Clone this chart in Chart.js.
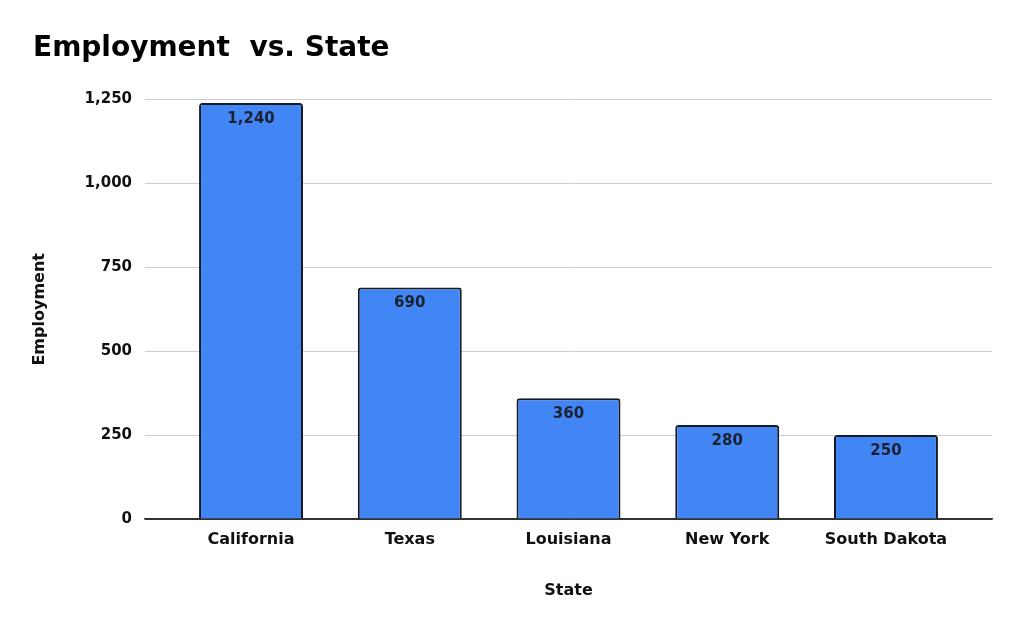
<!DOCTYPE html>
<html>
<head>
<meta charset="utf-8">
<script src="https://cdn.jsdelivr.net/npm/chart.js@4"></script>
<style>
  html, body { margin: 0; padding: 0; background: #fff; }
  #wrap { width: 1024px; height: 633px; }
</style>
</head>
<body>
<div id="wrap"><canvas id="employmentChart" width="1024" height="633"></canvas></div>
<script>
// chart data
const states = ['California', 'Texas', 'Louisiana', 'New York', 'South Dakota'];
const employment = [1240, 690, 360, 280, 250];
const yTicks = [0, 250, 500, 750, 1000, 1250];

const FONT = "'DejaVu Sans', 'Liberation Sans', Arial, sans-serif";

// draws the value inside the top of each bar
const barValueLabels = {
    id: 'barValueLabels',
    afterDatasetsDraw(chart) {
        const ctx = chart.ctx;
        const meta = chart.getDatasetMeta(0);
        ctx.save();
        ctx.font = 'bold 15px ' + FONT;
        ctx.fillStyle = '#1c2130';
        ctx.textAlign = 'center';
        ctx.textBaseline = 'middle';
        meta.data.forEach((bar, i) => {
            ctx.fillText(employment[i].toLocaleString('en-US'), bar.x, bar.y + 16);
        });
        ctx.restore();
    }
};

const ctx = document.getElementById('employmentChart').getContext('2d');
const employmentChart = new Chart(ctx, {
    type: 'bar',
    data: {
        datasets: [{
            label: 'Employment',
            data: employment.map((v, i) => ({ x: i, y: v })),
            backgroundColor: '#4285f4',
            borderColor: '#161a22',
            borderWidth: 2,
            borderRadius: 3,
            borderSkipped: 'bottom',
            categoryPercentage: 1,
            barPercentage: 0.655
        }]
    },
    options: {
        responsive: false,
        animation: false,
        layout: {
            padding: { left: 33, right: 32, top: 0, bottom: 0 }
        },
        plugins: {
            legend: { display: false },
            tooltip: { enabled: false },
            title: {
                display: true,
                text: 'Employment  vs. State',
                align: 'start',
                color: '#000',
                font: { family: FONT, size: 28, weight: 'bold' },
                padding: { top: 32, bottom: 34 }
            }
        },
        scales: {
            x: {
                type: 'linear',
                offset: false,
                min: -0.668,
                max: 4.668,
                afterBuildTicks: (scale) => {
                    scale.ticks = states.map((_, i) => ({ value: i }));
                },
                afterFit: (scale) => { scale.height = 114; },
                grid: { display: false, drawTicks: false },
                border: { color: '#333', width: 1.5 },
                ticks: {
                    autoSkip: false,
                    maxRotation: 0,
                    padding: 11,
                    color: '#111',
                    font: { family: FONT, size: 16, weight: 'bold' },
                    callback: (value) => states[value]
                },
                title: {
                    display: true,
                    text: 'State',
                    color: '#111',
                    font: { family: FONT, size: 16, weight: 'bold' },
                    padding: { top: 0, bottom: 33 }
                }
            },
            y: {
                min: 0,
                max: 1250,
                afterBuildTicks: (scale) => {
                    scale.ticks = yTicks.map(v => ({ value: v }));
                },
                afterFit: (scale) => { scale.width = 112; },
                grid: {
                    drawTicks: false,
                    color: (c) => c.tick && c.tick.value === 0 ? '#333' : '#cccccc',
                    lineWidth: 1
                },
                border: { display: false },
                ticks: {
                    padding: 13,
                    color: '#111',
                    font: { family: FONT, size: 15, weight: 'bold' },
                    callback: (value) => value.toLocaleString('en-US')
                },
                title: {
                    display: true,
                    text: 'Employment',
                    color: '#111',
                    font: { family: FONT, size: 16, weight: 'bold', lineHeight: 0.875 },
                    padding: { top: 0, bottom: 0 }
                }
            }
        }
    },
    plugins: [barValueLabels]
});
</script>
</body>
</html>
